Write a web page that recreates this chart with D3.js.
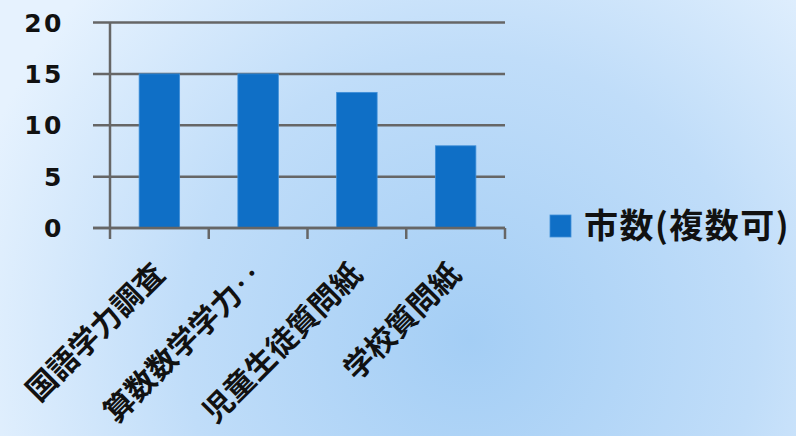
<!DOCTYPE html>
<html><head><meta charset="utf-8">
<script src="https://cdn.jsdelivr.net/npm/d3@7"></script>
<style>body{margin:0;}svg{display:block;}</style>
</head><body>
<script>
const categories = ["国語学力調査", "算数数学学力‥", "児童生徒質問紙", "学校質問紙"];
const values = [15, 15, 13.2, 8];
const yTicks = [0, 5, 10, 15, 20];
const seriesName = "市数(複数可)";

const W = 796, H = 436;
const svg = d3.select("body").append("svg").attr("width", W).attr("height", H);
const defs = svg.append("defs");
const rg = defs.append("radialGradient").attr("id", "bg")
  .attr("gradientUnits", "userSpaceOnUse").attr("cx", 470).attr("cy", 340).attr("r", 520);
rg.append("stop").attr("offset", "0%").attr("stop-color", "#a4cef5");
rg.append("stop").attr("offset", "55%").attr("stop-color", "#c0ddf9");
rg.append("stop").attr("offset", "100%").attr("stop-color", "#e6f2fe");
svg.append("rect").attr("width", W).attr("height", H).attr("fill", "url(#bg)");

const x0 = 110, x1 = 505, yTop = 22.5, yBot = 228;
const x = d3.scaleBand().domain(categories).range([x0, x1]);
const y = d3.scaleLinear().domain([0, 20]).range([yBot, yTop]);
const grid = "#666666";

// gridlines
svg.append("g").selectAll("line").data(yTicks).join("line")
  .attr("x1", 93).attr("x2", x1).attr("y1", d => y(d)).attr("y2", d => y(d))
  .attr("stroke", grid).attr("stroke-width", 2.5);

// bars
const bw = x.bandwidth() * 0.41;
svg.append("g").selectAll("rect").data(values).join("rect")
  .attr("x", (d, i) => x(categories[i]) + x.bandwidth() / 2 - bw / 2)
  .attr("width", bw)
  .attr("y", d => y(d)).attr("height", d => y(0) - y(d))
  .attr("fill", "#0f6fc6").attr("stroke", "#3f8fd8").attr("stroke-width", 0.8);

// y axis line
svg.append("line").attr("x1", x0).attr("x2", x0).attr("y1", yTop).attr("y2", yBot + 11)
  .attr("stroke", grid).attr("stroke-width", 2.5);
// x axis category ticks
const tickX = categories.map(c => x(c)).concat([x1]);
svg.append("g").selectAll("line").data(tickX.slice(1)).join("line")
  .attr("x1", d => d).attr("x2", d => d).attr("y1", yBot).attr("y2", yBot + 11)
  .attr("stroke", grid).attr("stroke-width", 2.5);
svg.append("line").attr("x1", 93).attr("x2", x1).attr("y1", yBot).attr("y2", yBot)
  .attr("stroke", grid).attr("stroke-width", 2.5);

// y tick labels
svg.append("g").selectAll("text").data(yTicks).join("text")
  .attr("x", 64).attr("y", d => y(d)).attr("dy", "0.36em")
  .attr("text-anchor", "end")
  .attr("font-family", "DejaVu Sans").attr("font-weight", "bold").attr("font-size", 25)
  .attr("letter-spacing", 2.5)
  .attr("fill", "#111").text(d => d);

// category labels
svg.append("g").selectAll("text").data(categories).join("text")
  .attr("transform", c => `translate(${x(c) + x.bandwidth() / 2 + 7},${yBot + 48}) rotate(-45)`)
  .attr("text-anchor", "end")
  .attr("font-family", "Noto Sans CJK JP").attr("font-weight", "bold").attr("font-size", 30)
  .attr("fill", "#111").text(c => c);

// legend
svg.append("rect").attr("x", 550).attr("y", 215).attr("width", 21).attr("height", 22)
  .attr("fill", "#0f6fc6").attr("stroke", "#3f8fd8").attr("stroke-width", 0.8);
svg.append("text").attr("x", 584).attr("y", 226).attr("dy", "0.36em")
  .attr("font-family", "Noto Sans CJK JP").attr("font-weight", "bold").attr("font-size", 34)
  .attr("letter-spacing", 1.5)
  .attr("fill", "#111").text(seriesName);
</script>
</body></html>
